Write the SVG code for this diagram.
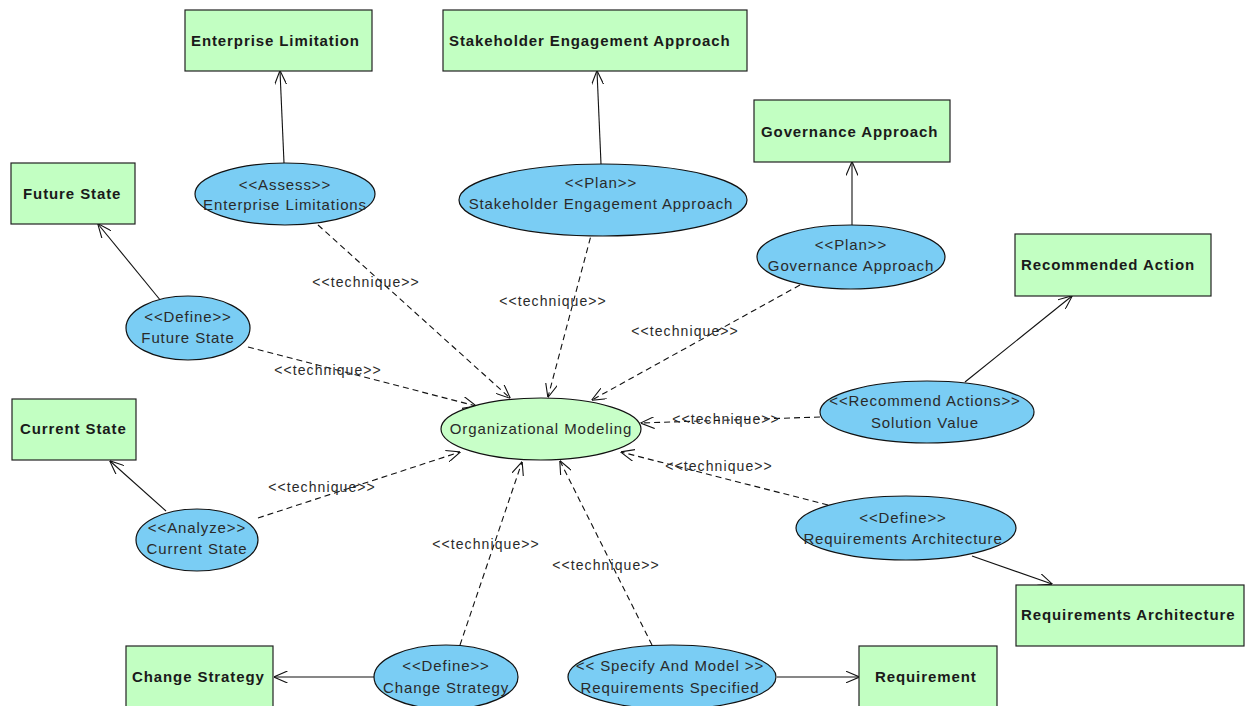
<svg xmlns="http://www.w3.org/2000/svg" width="1245" height="706" viewBox="0 0 1245 706">
  <style>
    .box { fill: #c2ffc2; stroke: #222; stroke-width: 1.2; }
    .uc { fill: #7acdf4; stroke: #111; stroke-width: 1.2; }
    .main { fill: #c8ffc8; stroke: #111; stroke-width: 1.2; }
    .bt { font-family: "Liberation Sans", Arial, sans-serif; font-size: 15px; letter-spacing: 0.9px; font-weight: bold; fill: #1a1a1a; }
    .ut { font-family: "Liberation Sans", Arial, sans-serif; font-size: 15px; letter-spacing: 0.9px; fill: #2a2a2a; text-anchor: middle; }
    .lbl { font-family: "Liberation Sans", Arial, sans-serif; font-size: 14px; letter-spacing: 1.1px; fill: #2a2a2a; text-anchor: middle; }
    .solid { fill: none; stroke: #111; stroke-width: 1.1; marker-end: url(#open); }
    .dash { fill: none; stroke: #111; stroke-width: 1.1; stroke-dasharray: 6 4; marker-end: url(#open); }
  </style>
  <defs>
    <marker id="open" viewBox="0 0 14 12" refX="13.5" refY="6" markerWidth="14" markerHeight="12" markerUnits="userSpaceOnUse" orient="auto">
      <path d="M0,0 L14,6 L0,12" fill="none" stroke="#111" stroke-width="1.1"/>
    </marker>
  </defs>
  <rect width="1245" height="706" fill="#ffffff"/>

  <g id="connectors">
    <!-- ownership links: use case to artefact -->
    <path class="solid" d="M284,163 L280,71"/>
    <path class="solid" d="M601,164 L597,71"/>
    <path class="solid" d="M852,226 L852,162"/>
    <path class="solid" d="M161,301 L98,224"/>
    <path class="solid" d="M965,382 L1072,296"/>
    <path class="solid" d="M166,511 L110,461"/>
    <path class="solid" d="M972,556 L1052,584"/>
    <path class="solid" d="M374,677 L274,677"/>
    <path class="solid" d="M777,677 L859,677"/>
    <!-- technique dependencies -->
    <path class="dash" d="M318,225 L510,398"/>
    <path class="dash" d="M593,228 L548,397"/>
    <path class="dash" d="M800,285 L592,400"/>
    <path class="dash" d="M248,347 L476,406"/>
    <path class="dash" d="M820,417 L641,423"/>
    <path class="dash" d="M828,505 L621,452"/>
    <path class="dash" d="M258,518 L460,452"/>
    <path class="dash" d="M460,645 L522,462"/>
    <path class="dash" d="M652,645 L560,461"/>
    <text class="lbl" x="366" y="287">&lt;&lt;technique&gt;&gt;</text>
    <text class="lbl" x="553" y="306">&lt;&lt;technique&gt;&gt;</text>
    <text class="lbl" x="685" y="336">&lt;&lt;technique&gt;&gt;</text>
    <text class="lbl" x="328" y="375">&lt;&lt;technique&gt;&gt;</text>
    <text class="lbl" x="726" y="424">&lt;&lt;technique&gt;&gt;</text>
    <text class="lbl" x="719" y="471">&lt;&lt;technique&gt;&gt;</text>
    <text class="lbl" x="322" y="492">&lt;&lt;technique&gt;&gt;</text>
    <text class="lbl" x="486" y="549">&lt;&lt;technique&gt;&gt;</text>
    <text class="lbl" x="606" y="570">&lt;&lt;technique&gt;&gt;</text>
  </g>

  <g id="enterprise-limitation">
    <rect class="box" x="185" y="10" width="187" height="61"/>
    <text class="bt" x="191" y="46">Enterprise Limitation</text>
  </g>
  <g id="stakeholder-engagement-approach">
    <rect class="box" x="443" y="10" width="304" height="61"/>
    <text class="bt" x="449" y="46">Stakeholder Engagement Approach</text>
  </g>
  <g id="governance-approach">
    <rect class="box" x="754" y="100" width="196" height="62"/>
    <text class="bt" x="761" y="137">Governance Approach</text>
  </g>
  <g id="future-state">
    <rect class="box" x="11" y="163" width="124" height="61"/>
    <text class="bt" x="23" y="199">Future State</text>
  </g>
  <g id="recommended-action">
    <rect class="box" x="1015" y="234" width="196" height="62"/>
    <text class="bt" x="1021" y="270">Recommended Action</text>
  </g>
  <g id="current-state">
    <rect class="box" x="12" y="399" width="124" height="61"/>
    <text class="bt" x="20" y="434">Current State</text>
  </g>
  <g id="requirements-architecture">
    <rect class="box" x="1016" y="585" width="228" height="61"/>
    <text class="bt" x="1021" y="620">Requirements Architecture</text>
  </g>
  <g id="change-strategy">
    <rect class="box" x="126" y="646" width="147" height="66"/>
    <text class="bt" x="132" y="682">Change Strategy</text>
  </g>
  <g id="requirement">
    <rect class="box" x="859" y="646" width="138" height="66"/>
    <text class="bt" x="875" y="682">Requirement</text>
  </g>

  <g id="organizational-modeling">
    <ellipse class="main" cx="541" cy="429" rx="100" ry="31"/>
    <text class="ut" x="541" y="434">Organizational Modeling</text>
  </g>
  <g id="assess-enterprise-limitations">
    <ellipse class="uc" cx="285" cy="194" rx="90" ry="31"/>
    <text class="ut" x="285" y="190">&lt;&lt;Assess&gt;&gt;</text>
    <text class="ut" x="285" y="210">Enterprise Limitations</text>
  </g>
  <g id="plan-stakeholder-engagement">
    <ellipse class="uc" cx="603" cy="200" rx="144" ry="36"/>
    <text class="ut" x="601" y="188">&lt;&lt;Plan&gt;&gt;</text>
    <text class="ut" x="601" y="209">Stakeholder Engagement Approach</text>
  </g>
  <g id="plan-governance">
    <ellipse class="uc" cx="851" cy="257" rx="94" ry="32"/>
    <text class="ut" x="851" y="250">&lt;&lt;Plan&gt;&gt;</text>
    <text class="ut" x="851" y="271">Governance Approach</text>
  </g>
  <g id="define-future-state">
    <ellipse class="uc" cx="188" cy="328" rx="62" ry="32"/>
    <text class="ut" x="188" y="322">&lt;&lt;Define&gt;&gt;</text>
    <text class="ut" x="188" y="343">Future State</text>
  </g>
  <g id="recommend-actions">
    <ellipse class="uc" cx="927" cy="412" rx="107" ry="31"/>
    <text class="ut" x="925" y="406">&lt;&lt;Recommend Actions&gt;&gt;</text>
    <text class="ut" x="925" y="428">Solution Value</text>
  </g>
  <g id="define-requirements-architecture">
    <ellipse class="uc" cx="906" cy="528" rx="110" ry="32"/>
    <text class="ut" x="903" y="523">&lt;&lt;Define&gt;&gt;</text>
    <text class="ut" x="903" y="544">Requirements Architecture</text>
  </g>
  <g id="analyze-current-state">
    <ellipse class="uc" cx="197" cy="540" rx="61" ry="31"/>
    <text class="ut" x="197" y="533">&lt;&lt;Analyze&gt;&gt;</text>
    <text class="ut" x="197" y="554">Current State</text>
  </g>
  <g id="define-change-strategy">
    <ellipse class="uc" cx="446" cy="677" rx="72" ry="32"/>
    <text class="ut" x="446" y="671">&lt;&lt;Define&gt;&gt;</text>
    <text class="ut" x="446" y="693">Change Strategy</text>
  </g>
  <g id="specify-and-model">
    <ellipse class="uc" cx="672" cy="677" rx="104" ry="32"/>
    <text class="ut" x="670" y="671">&lt;&lt; Specify And Model &gt;&gt;</text>
    <text class="ut" x="670" y="693">Requirements Specified</text>
  </g>
</svg>
